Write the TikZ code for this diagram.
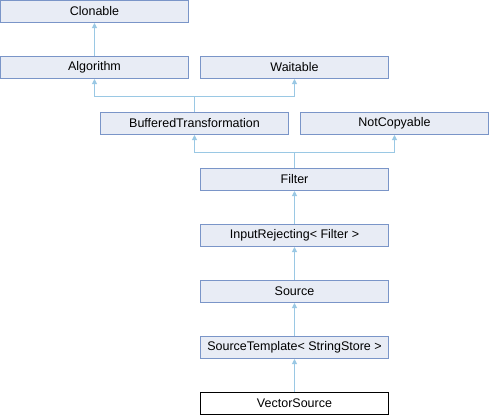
\documentclass[tikz,border=0pt]{standalone}
\usepackage{fontspec}
\setmainfont{Liberation Sans}
\usetikzlibrary{arrows.meta,positioning}
\definecolor{boxfill}{HTML}{E8ECF5}
\definecolor{boxline}{HTML}{7A95C8}
\definecolor{edgeblue}{HTML}{9AC8E4}
\tikzset{cls/.style={draw=boxline,fill=boxfill,line width=1pt,minimum width=188pt,minimum height=22pt,inner sep=0pt,font=\fontsize{12.5}{14}\selectfont},leaf/.style={cls,draw=black,fill=white},inh/.style={-{Triangle[width=5pt,length=5pt]},draw=edgeblue,line width=1pt}}
\begin{document}
\begin{tikzpicture}[x=1pt,y=-1pt]
\useasboundingbox (0,0) rectangle (490,416);
\node[cls] (clon) at (94.5,11.5) {Clonable};
\node[cls,below=33pt of clon] (alg) {Algorithm};
\node[cls,right=11pt of alg] (wait) {Waitable};
\node[cls] (bt) at (194.5,123.5) {BufferedTransformation};
\node[cls,right=11pt of bt] (nc) {NotCopyable};
\node[cls] (filt) at (294.5,179.5) {Filter};
\node[cls,below=33pt of filt] (rej) {InputRejecting< Filter >};
\node[cls,below=33pt of rej] (src) {Source};
\node[cls,below=33pt of src] (tmpl) {SourceTemplate< StringStore >};
\node[leaf,below=33pt of tmpl] (vsrc) {VectorSource};
\draw[inh] (alg) -- (clon);
\draw[inh] (bt.north) -- ++(0,-16) -| (alg.south);
\draw[inh] (bt.north) ++(0,-16) -| (wait.south);
\draw[inh] (filt.north) -- ++(0,-16) -| (bt.south);
\draw[inh] (filt.north) ++(0,-16) -| (nc.south);
\draw[inh] (rej) -- (filt);
\draw[inh] (src) -- (rej);
\draw[inh] (tmpl) -- (src);
\draw[inh] (vsrc) -- (tmpl);
\end{tikzpicture}
\end{document}
